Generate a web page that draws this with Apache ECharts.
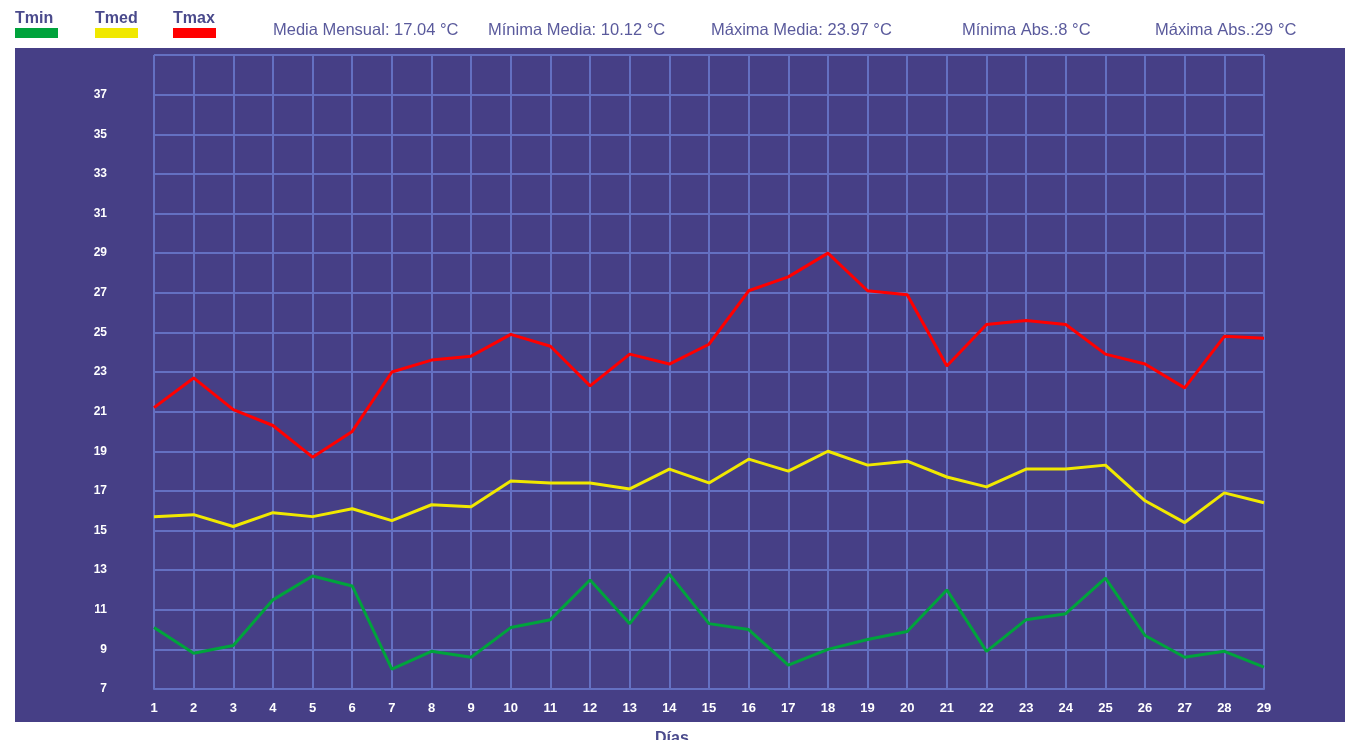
<!DOCTYPE html>
<html>
<head>
<meta charset="utf-8">
<script src="https://cdn.jsdelivr.net/npm/echarts@6/dist/echarts.min.js"></script>
<style>
  html, body { margin: 0; padding: 0; background: #ffffff; }
  #wrap { position: relative; width: 1345px; height: 740px; overflow: hidden; }
  #panel { position: absolute; left: 15px; top: 48px; width: 1330px; height: 674px; background: #463f86; }
  #chart { position: absolute; left: 0; top: 0; width: 1345px; height: 740px; }
</style>
</head>
<body>
<div id="wrap">
  <div id="panel"></div>
  <div id="chart"></div>
</div>
<script>
// Days of the month
const dias = ['1','2','3','4','5','6','7','8','9','10','11','12','13','14','15','16','17','18','19','20','21','22','23','24','25','26','27','28','29'];

// Daily temperatures (°C)
const tmin = [10.1, 8.8, 9.2, 11.5, 12.7, 12.2, 8.0, 8.9, 8.6, 10.1, 10.5, 12.5, 10.3, 12.8, 10.3, 10.0, 8.2, 9.0, 9.5, 9.9, 12.0, 8.9, 10.5, 10.8, 12.6, 9.7, 8.6, 8.9, 8.1];
const tmed = [15.7, 15.8, 15.2, 15.9, 15.7, 16.1, 15.5, 16.3, 16.2, 17.5, 17.4, 17.4, 17.1, 18.1, 17.4, 18.6, 18.0, 19.0, 18.3, 18.5, 17.7, 17.2, 18.1, 18.1, 18.3, 16.5, 15.4, 16.9, 16.4];
const tmax = [21.2, 22.7, 21.1, 20.3, 18.7, 20.0, 23.0, 23.6, 23.8, 24.9, 24.3, 22.3, 23.9, 23.4, 24.4, 27.1, 27.8, 29.0, 27.1, 26.9, 23.3, 25.4, 25.6, 25.4, 23.9, 23.4, 22.2, 24.8, 24.7];

// Series names and colours
const seriesNames = ['Tmin', 'Tmed', 'Tmax'];
const seriesColors = ['#00a33c', '#f0e800', '#ff0000'];

// Summary texts in the header
const resumen = [
  'Media Mensual: 17.04 °C',
  'Mínima Media: 10.12 °C',
  'Máxima Media: 23.97 °C',
  'Mínima Abs.:8 °C',
  'Máxima Abs.:29 °C'
];

const FONT = 'Arial, "Liberation Sans", sans-serif';
const gridColor = '#6470c2';

const chart = echarts.init(document.getElementById('chart'), null, { renderer: 'canvas' });

// Custom legend: name above a coloured bar
const legendX = [15, 95, 173];
const legendGraphics = [];
seriesNames.forEach((n, i) => {
  legendGraphics.push({
    type: 'text', left: legendX[i], top: 11,
    style: { text: n, fill: '#4a4a8c', font: 'bold 16px ' + FONT }
  });
  legendGraphics.push({
    type: 'rect', left: legendX[i], top: 28,
    shape: { width: 43, height: 10 },
    style: { fill: seriesColors[i] }
  });
});

const resumenX = [273, 488, 711, 962, 1155];
const resumenGraphics = resumen.map((t, i) => ({
  type: 'text', left: resumenX[i], top: 22,
  style: { text: t, fill: '#5a5a9c', font: '16.5px ' + FONT }
}));

const dataSets = [tmin, tmed, tmax];

chart.setOption({
  backgroundColor: 'transparent',
  animation: false,
  grid: { left: 154, right: 81, top: 55, bottom: 51, containLabel: false },
  xAxis: {
    type: 'category',
    data: dias,
    boundaryGap: false,
    axisLine: { show: true, lineStyle: { color: gridColor, width: 2 } },
    axisTick: { show: false },
    axisLabel: { color: '#ffffff', fontWeight: 'bold', fontSize: 13, fontFamily: FONT, margin: 13, interval: 0 },
    splitLine: { show: true, interval: 0, lineStyle: { color: gridColor, width: 2 } }
  },
  yAxis: {
    type: 'value',
    min: 7, max: 39, interval: 2,
    axisLine: { show: false },
    axisTick: { show: false },
    axisLabel: { color: '#ffffff', fontWeight: 'bold', fontSize: 12, fontFamily: FONT, margin: 47, showMaxLabel: false },
    splitLine: { show: true, lineStyle: { color: gridColor, width: 2 } }
  },
  series: seriesNames.map((n, i) => ({
    name: n,
    type: 'line',
    data: dataSets[i],
    symbol: 'none',
    smooth: false,
    lineStyle: { color: seriesColors[i], width: 3 },
    z: 3 + i
  })),
  graphic: [
    ...legendGraphics,
    ...resumenGraphics,
    {
      type: 'text', left: 655, top: 731,
      style: { text: 'Días', fill: '#4a4a8c', font: 'bold 16px ' + FONT }
    }
  ]
});
</script>
</body>
</html>
